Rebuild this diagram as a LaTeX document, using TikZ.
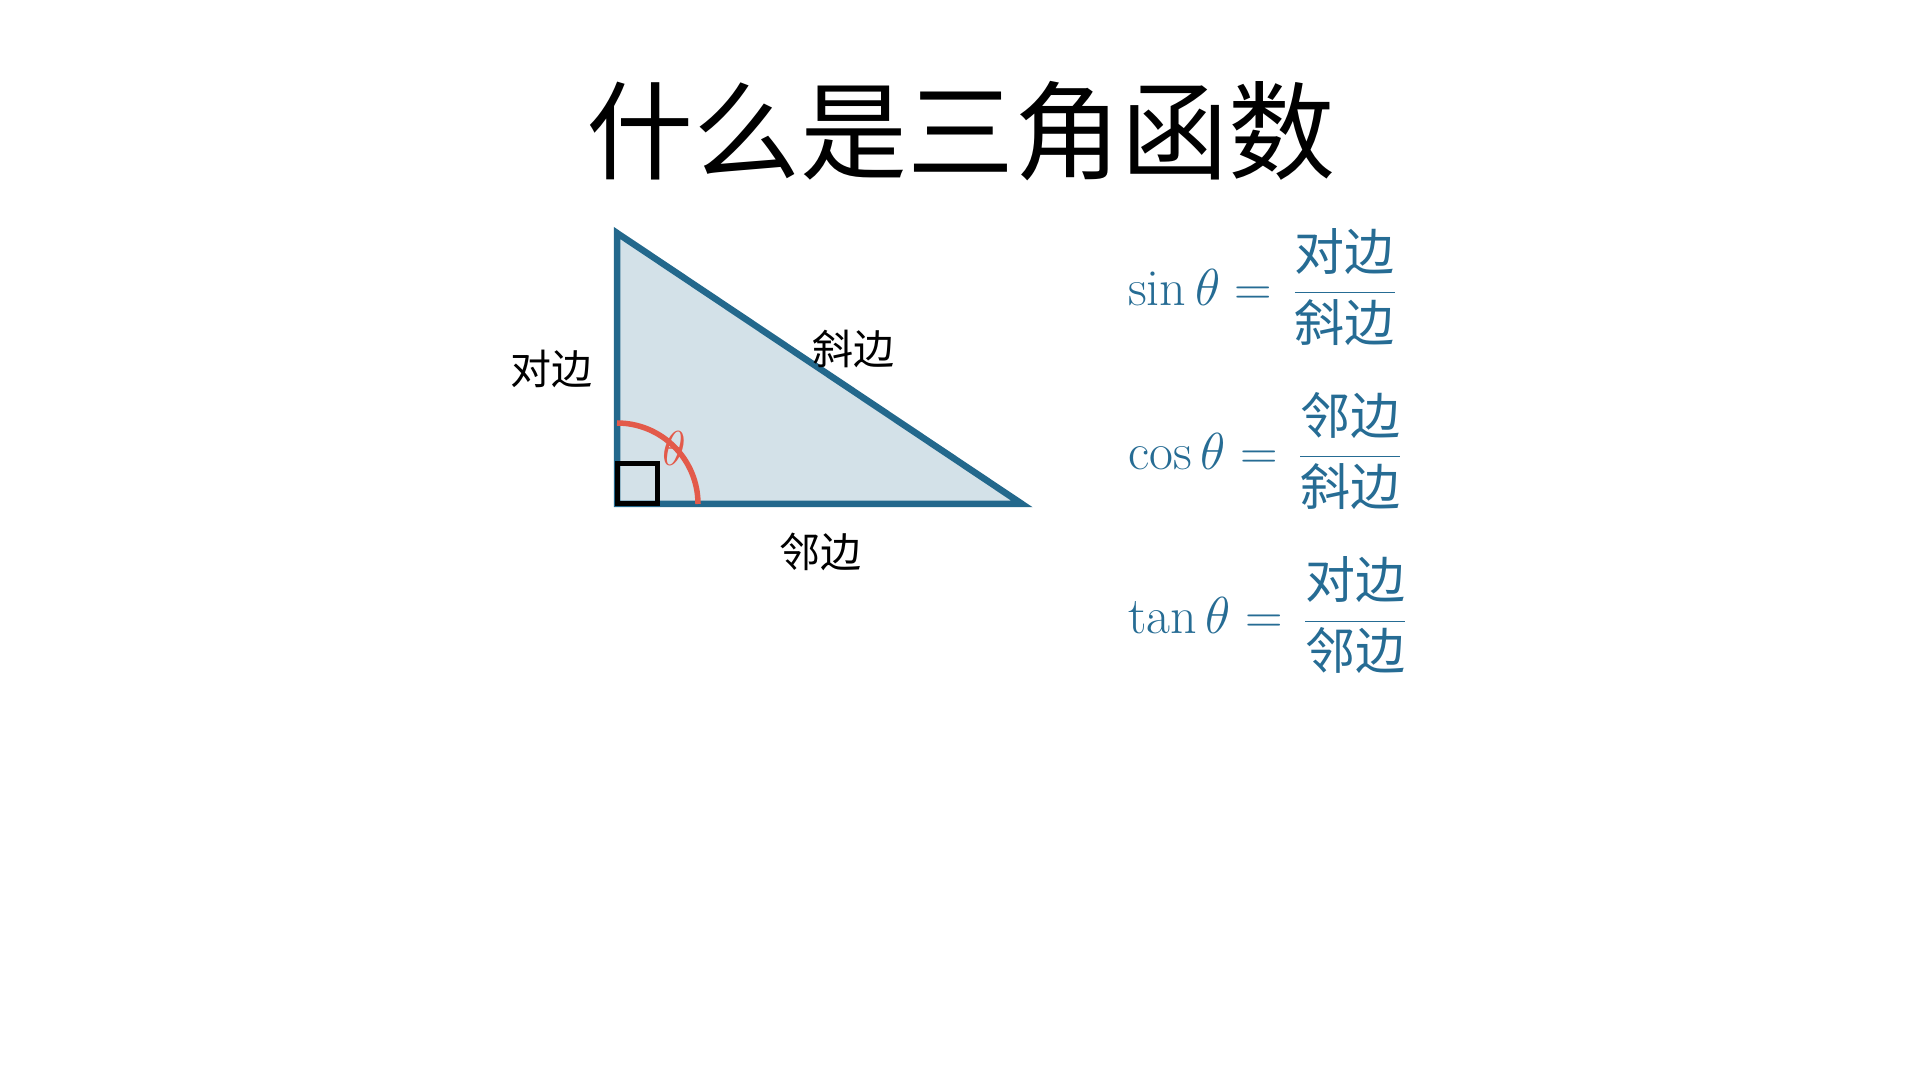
\RequirePackage{fix-cm}
\documentclass[tikz,border=0pt]{standalone}
\usepackage{amsmath}
\usepackage{fontspec}
\newfontfamily\cjk{Noto Sans CJK SC}
\usetikzlibrary{calc}
\definecolor{tri}{RGB}{35,104,140}
\definecolor{trifill}{RGB}{211,225,232}
\definecolor{fblue}{RGB}{38,108,148}
\definecolor{angred}{RGB}{227,90,74}
\newcommand{\zh}[1]{\text{\cjk\fontsize{50}{58}\selectfont #1}}
\tikzset{
  lbl/.style={font=\cjk\fontsize{41}{48}\selectfont, inner sep=0pt},
  formula/.style={text=fblue, font=\fontsize{52}{60}\selectfont, anchor=base west, inner sep=0pt}
}
\begin{document}
\begin{tikzpicture}[x=1pt,y=1pt]
\useasboundingbox (0,0) rectangle (1920,1080);
\fill[white] (0,0) rectangle (1920,1080);
\node[font=\cjk\fontsize{107}{120}\selectfont, inner sep=0pt] (title) at (961,949) {什么是三角函数};
\coordinate (A) at (617,847);
\coordinate (B) at (617,576);
\coordinate (C) at (1022,576);
\filldraw[fill=trifill, draw=tri, line width=6.5pt, line join=miter] (A) -- (B) -- (C) -- cycle;
\draw[angred, line width=5.5pt] ($(B)+(0,81)$) arc[start angle=90, end angle=0, radius=81];
\draw[black, line width=5pt] (B) rectangle ++(40,40);
\node[text=angred, font=\fontsize{49}{56}\selectfont, inner sep=0pt] (theta) at ($(B)+(57,56)$) {$\theta$};
\node[lbl] (opp) at ($(A)!0.5!(B)+(-66,0)$) {对边};
\node[lbl] (hyp) at ($(A)!0.5!(C)+(34,20)$) {斜边};
\node[lbl] (adj) at ($(B)!0.5!(C)+(1,-48)$) {邻边};
\node[formula] (sin) at (1128,774) {$\displaystyle \sin\theta = \hspace{7pt}\frac{\zh{对边}}{\zh{斜边}}$};
\node[formula] (cos) at (1128,610) {$\displaystyle \cos\theta = \hspace{7pt}\frac{\zh{邻边}}{\zh{斜边}}$};
\node[formula] (tan) at (1128,446) {$\displaystyle \tan\theta = \hspace{7pt}\frac{\zh{对边}}{\zh{邻边}}$};
\end{tikzpicture}
\end{document}
